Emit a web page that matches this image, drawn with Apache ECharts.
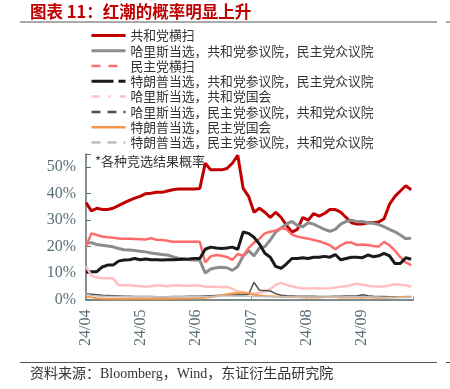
<!DOCTYPE html>
<html>
<head>
<meta charset="utf-8">
<script src="https://cdn.jsdelivr.net/npm/echarts@6/dist/echarts.min.js"></script>
<style>
html,body{margin:0;padding:0;background:#fff;}
#c{width:450px;height:389px;}
</style>
</head>
<body>
<div id="c"></div>
<script>
// ---- data ----
const monthLabels = ['24/04','24/05','24/06','24/07','24/08','24/09'];
const days = [0,3,6,9,12,15,18,21,24,27,30,33,36,39,42,45,48,51,54,57,60,63,66,69,72,75,78,81,84,87,90,93,96,99,102,105,108,111,114,117,120,123,126,129,132,135,138,141,144,147,150,153,156,159,162,165,168,171,174,177,180];
const seriesNames = ['共和党横扫','哈里斯当选，共和党参议院，民主党众议院','民主党横扫','特朗普当选，共和党参议院，民主党众议院','哈里斯当选，共和党国会','哈里斯当选，民主党参议院，共和党众议院','特朗普当选，民主党国会','特朗普当选，民主党参议院，共和党众议院'];
const repSweep = [36.6,33.5,34.5,34,34,34.5,35.5,36.5,37.5,38.3,39,40,40.2,40.5,40.5,41,41.5,41.8,41.8,41.8,41.8,42,51.5,49,49,49,49.5,51.5,54.5,42,39,33,34.5,33,31,33,31,28,25.5,26.5,31,30,32.5,31.5,32.5,34,34,33,31,29,28.5,28.5,29,29,29.3,30.5,36,39,41,43,41.5];
const harrisRepSenDemHouse = [21.2,21.5,20.8,20.5,20.2,19.9,19.3,18.8,18.7,18.5,18.2,18,17.6,17.3,17,16.8,16.2,15.6,15.4,15,14.9,14.8,10,11.5,12,12.2,12,11,12.5,16.5,18.5,16.5,19.5,20,22.5,25.5,27,28.5,29.5,28,27.5,29,28.5,27.5,26.5,25.8,26.5,28.5,29.5,30,29.4,29.5,29,28.8,28.3,27.5,26.5,25.6,24.4,23,23.2];
const demSweep = [20,25,24.4,23.8,23.5,23.3,23.1,23,23,22.9,22.8,22.7,23.2,22.6,22.5,22.2,21.8,21.8,21.8,21.8,21.8,21.8,14,16.3,16.8,16.5,16.1,15,17.2,16.5,19.5,21.5,23,25,25.6,26,27,26.5,24.5,23.8,23.3,23,22.5,22,21.3,20.5,19,20.5,21.5,21.5,20.6,20.8,20.6,20.2,20,21.8,20.5,18.5,16,14,13];
const trumpRepSenDemHouse = [10.5,10.5,10.5,12.3,13,13,14.5,14.9,15,15.5,15,15.3,15,15,14.9,15,15,15.1,15.2,15.3,15.5,15.5,19,19.8,19.5,19.3,19.5,19.8,19,25.5,25,23.5,21,17.5,16,12.5,11.8,13.5,15.5,15.5,15.8,15.5,16,16,16.3,16,17,15,15.5,16,16,15.8,16.8,16.2,16.5,17.4,16.5,13.6,13.6,15.8,15.2];
const harrisRepCongress = [12.5,9,8.3,8,8,8,5.5,5.4,5.4,5.2,5,4.8,5,5.3,5.3,5,5.3,5.4,5.2,5.2,5.3,5.3,4.8,4.8,4.8,4.6,4.8,4,3,2.8,2.3,2.3,2.5,3,4,5.5,6.3,5.5,5,4.5,4.2,4.2,4.3,4.2,4.2,4.3,4.5,4.8,5,5.5,6,5.6,5.2,5,4.9,4.9,5.3,5.8,5.6,5.4,4.8];
const harrisDemSenRepHouse = [2.2,2,1.8,1.6,1.5,1.4,1.3,1.2,1.2,1.1,1.1,1.1,1.1,1.0,1.0,1.0,1.1,1.1,1.1,1.2,1.2,1.2,1.3,1.4,1.5,1.6,1.7,1.7,1.8,1.8,2,6.5,3.5,3.4,3.2,2.2,1.6,1.4,1.3,1.2,1.2,1.2,1.2,1.1,1.1,1.1,1.2,1.2,1.3,1.3,1.3,1.8,1.4,1.2,1.1,1.1,1.0,1.0,0.9,0.9,0.9];
const trumpDemCongress = [1.2,0.8,0.5,0.4,0.3,0.3,0.3,0.3,0.3,0.3,0.3,0.3,0.3,0.3,0.3,0.3,0.3,0.4,0.4,0.4,0.5,0.5,0.7,0.9,1.2,1.6,2,2.3,2.5,2.6,2.4,1.8,1.5,1.3,1.2,1.1,1,0.9,0.9,0.9,0.8,0.8,0.8,0.8,0.9,0.9,0.9,0.8,0.8,0.8,0.8,0.8,0.8,0.8,0.7,0.7,0.8,0.8,0.9,1,1];
const trumpDemSenRepHouse = [2,1.5,1.3,1.2,1.1,1.1,1,1,1,1,1,1,1,1,1,1,1,1,1,1,1,1,1,1.1,1.2,1.3,1.3,1.3,1.2,1.2,1.2,1.1,1.1,1,1,1,1,1,0.9,0.9,0.9,0.9,0.9,0.9,0.9,0.9,0.9,0.9,1,1,1,1,1,0.9,0.9,0.8,0.8,0.8,0.8,0.8,0.8];
const yTicks = [0,10,20,30,40,50];

// ---- styles ----
const allValues = [repSweep,harrisRepSenDemHouse,demSweep,trumpRepSenDemHouse,harrisRepCongress,harrisDemSenRepHouse,trumpDemCongress,trumpDemSenRepHouse];
const colors = ['#c00000','#8c8c8c','#ff6b6b','#1a1a1a','#ffc0c0','#505050','#f79646','#c0c0c0'];
const widths = [3,3,2.5,3,2.5,1.5,2,1.5];
const legendDash = ['solid','solid',[9,8],[22,5],[8,9,2,9],[9,7],'solid',[9,7]];
const legendWidth = [3,3,2.5,3,2.5,2.5,2.5,2.5];
const MONTH = 30.5;

const series = allValues.map((vals,i)=>({
  name: seriesNames[i],
  type: 'line',
  showSymbol: false,
  symbol: 'none',
  data: days.map((d,k)=>[d, vals[k]]),
  lineStyle: {color: colors[i], width: widths[i]},
  itemStyle: {color: colors[i]},
  z: 2 + i,
  animation: false
}));

const chart = echarts.init(document.getElementById('c'), null, {renderer:'canvas'});
const axisColor = '#5a6e76';
chart.setOption({
  animation: false,
  backgroundColor: '#fff',
  grid: {left: 86, right: 37, top: 154, bottom: 89.5, containLabel: false},
  legend: {
    orient: 'vertical',
    left: 90, top: 29, padding: 0,
    itemWidth: 34, itemHeight: 10, itemGap: 2.5,
    textStyle: {fontFamily: '"Noto Sans CJK SC"', fontSize: 12.8, color: '#333'},
    data: seriesNames.map((n,i)=>({name: n, itemStyle: {opacity: 0, borderWidth: 0}, lineStyle: {type: legendDash[i], width: legendWidth[i], color: colors[i], opacity: 1}}))
  },
  xAxis: {
    type: 'value', min: 0, max: 181, interval: MONTH,
    splitLine: {show: false},
    axisLine: {lineStyle: {color: '#7f8a8c', width: 2}},
    axisTick: {show: true, inside: true, length: 3, lineStyle: {color: '#7f8a8c'}},
    axisLabel: {
      rotate: 90, margin: 10,
      fontFamily: '"Liberation Serif"', fontSize: 16, color: axisColor,
      formatter: v => { const k = v / MONTH; const r = Math.round(k); return (Math.abs(k - r) < 0.01 && monthLabels[r]) ? monthLabels[r] : ''; }
    }
  },
  yAxis: {
    type: 'value', min: 0, max: 55, interval: 10,
    splitLine: {show: false},
    axisLine: {show: true, lineStyle: {color: '#5a6e76', width: 1.5}},
    axisTick: {show: true, inside: true, length: 5, lineStyle: {color: '#5a6e76'}},
    axisLabel: {
      margin: 10, fontFamily: '"Liberation Serif"', fontSize: 16, color: axisColor,
      formatter: v => yTicks.indexOf(v) >= 0 ? v + '%' : ''
    }
  },
  graphic: [
    {type: 'text', left: 30, top: 3, style: {text: '图表 11：红潮的概率明显上升', fill: '#c00000', font: 'bold 16.5px "Noto Sans CJK SC"'}},
    {type: 'line', shape: {x1: 20, y1: 22, x2: 437, y2: 22}, style: {stroke: '#555', lineWidth: 1}},
    {type: 'line', shape: {x1: 446, y1: 22, x2: 450, y2: 22}, style: {stroke: '#555', lineWidth: 1}},
    {type: 'text', left: 95, top: 155, z: 1, style: {text: '*各种竞选结果概率', fill: '#333', font: '13px "Noto Sans CJK SC"'}},
    {type: 'line', shape: {x1: 20, y1: 362.5, x2: 437, y2: 362.5}, style: {stroke: '#555', lineWidth: 1}},
    {type: 'line', shape: {x1: 446, y1: 362.5, x2: 450, y2: 362.5}, style: {stroke: '#555', lineWidth: 1}},
    {type: 'text', left: 30, top: 367, style: {text: '资料来源：Bloomberg，Wind，东证衍生品研究院', fill: '#333', font: '14px "Liberation Serif", "Noto Sans CJK SC"'}}
  ],
  series: series
});
</script>
</body>
</html>
